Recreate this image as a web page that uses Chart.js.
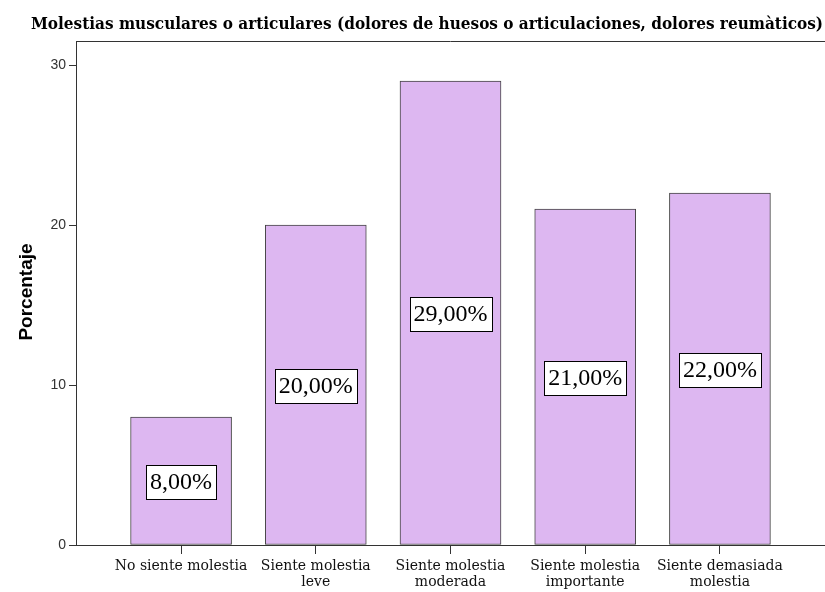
<!DOCTYPE html>
<html>
<head>
<meta charset="utf-8">
<script src="https://cdn.jsdelivr.net/npm/chart.js@4/dist/chart.umd.min.js"></script>
<style>
  html, body { margin: 0; padding: 0; background: #fff; }
  #wrap { width: 825px; height: 592px; position: relative; }
</style>
</head>
<body>
<div id="wrap"><canvas id="c"></canvas></div>
<script>
const chartTitle = "Molestias musculares o articulares (dolores de huesos o articulaciones, dolores reumàticos)";
const yAxisTitle = "Porcentaje";
const categories = [
  ["No siente molestia"],
  ["Siente molestia", "leve"],
  ["Siente molestia", "moderada"],
  ["Siente molestia", "importante"],
  ["Siente demasiada", "molestia"]
];
const percentages = [8, 20, 29, 21, 22];
const yTicks = [0, 10, 20, 30];

const points = percentages.map((v, i) => ({ x: i, y: v }));

const AXIS_COLOR = '#333333';

const decorPlugin = {
  id: 'decor',
  afterDraw(chart) {
    const ctx = chart.ctx;
    const a = chart.chartArea;
    ctx.save();
    // top frame line
    ctx.strokeStyle = AXIS_COLOR;
    ctx.lineWidth = 1;
    ctx.beginPath();
    ctx.moveTo(a.left, a.top + 0.5);
    ctx.lineTo(a.right, a.top + 0.5);
    ctx.stroke();
    // chart title
    ctx.fillStyle = '#000';
    ctx.font = "bold 17px 'DejaVu Serif Condensed', 'DejaVu Serif', serif";
    ctx.textAlign = 'center';
    ctx.textBaseline = 'alphabetic';
    ctx.fillText(chartTitle, 427, 29);
    // y axis title
    ctx.save();
    ctx.translate(27, 292);
    ctx.rotate(-Math.PI / 2);
    ctx.font = "bold 19px 'Liberation Sans', Arial, sans-serif";
    ctx.textAlign = 'center';
    ctx.textBaseline = 'middle';
    ctx.fillText(yAxisTitle, 0, 0);
    ctx.restore();
    // value labels
    const meta = chart.getDatasetMeta(0);
    ctx.font = "24px 'Liberation Serif', 'Times New Roman', serif";
    ctx.textAlign = 'center';
    ctx.textBaseline = 'middle';
    meta.data.forEach((bar, i) => {
      const txt = percentages[i].toFixed(2).replace('.', ',') + '%';
      const cy = (bar.y + bar.base) / 2 + 1;
      const w = ctx.measureText(txt).width + 8;
      const h = 34;
      const x0 = Math.round(bar.x - w / 2) + 0.5;
      const y0 = Math.round(cy - h / 2) + 0.5;
      ctx.fillStyle = '#fff';
      ctx.fillRect(x0, y0, Math.round(w), h);
      ctx.strokeStyle = '#000';
      ctx.lineWidth = 1;
      ctx.strokeRect(x0, y0, Math.round(w), h);
      ctx.fillStyle = '#000';
      ctx.fillText(txt, bar.x, cy + 1);
    });
    ctx.restore();
  }
};

new Chart(document.getElementById('c'), {
  type: 'bar',
  data: {
    datasets: [{
      data: points,
      backgroundColor: '#DDB7F1',
      borderColor: '#444444',
      borderWidth: 1,
      borderSkipped: false,
      barThickness: 101
    }]
  },
  options: {
    responsive: true,
    maintainAspectRatio: false,
    animation: false,
    layout: { padding: { top: 41, right: 0, bottom: 0, left: 0 } },
    plugins: {
      legend: { display: false },
      tooltip: { enabled: false },
      title: { display: false }
    },
    scales: {
      x: {
        type: 'linear',
        offset: false,
        min: -0.78,
        max: 4.78,
        afterFit(scale) { scale.height = 47; },
        afterBuildTicks(scale) {
          scale.ticks = categories.map((c, i) => ({ value: i }));
        },
        grid: {
          offset: false,
          drawOnChartArea: false,
          drawTicks: true,
          tickLength: 9,
          color: AXIS_COLOR
        },
        border: { display: true, color: AXIS_COLOR, width: 1 },
        ticks: {
          autoSkip: false,
          maxRotation: 0,
          minRotation: 0,
          padding: 4,
          color: '#111',
          font: { family: "'DejaVu Serif', serif", size: 14, lineHeight: 1.15 },
          callback: (v) => categories[v]
        }
      },
      y: {
        min: 0,
        max: 31.5,
        afterFit(scale) { scale.width = 76; },
        afterBuildTicks(scale) {
          scale.ticks = yTicks.map(v => ({ value: v }));
        },
        grid: {
          drawOnChartArea: false,
          drawTicks: true,
          tickLength: 7,
          color: AXIS_COLOR
        },
        border: { display: true, color: AXIS_COLOR, width: 1 },
        ticks: {
          padding: 3,
          color: '#333',
          font: { family: "'Liberation Sans', Arial, sans-serif", size: 14 }
        }
      }
    }
  },
  plugins: [decorPlugin]
});
</script>
</body>
</html>
